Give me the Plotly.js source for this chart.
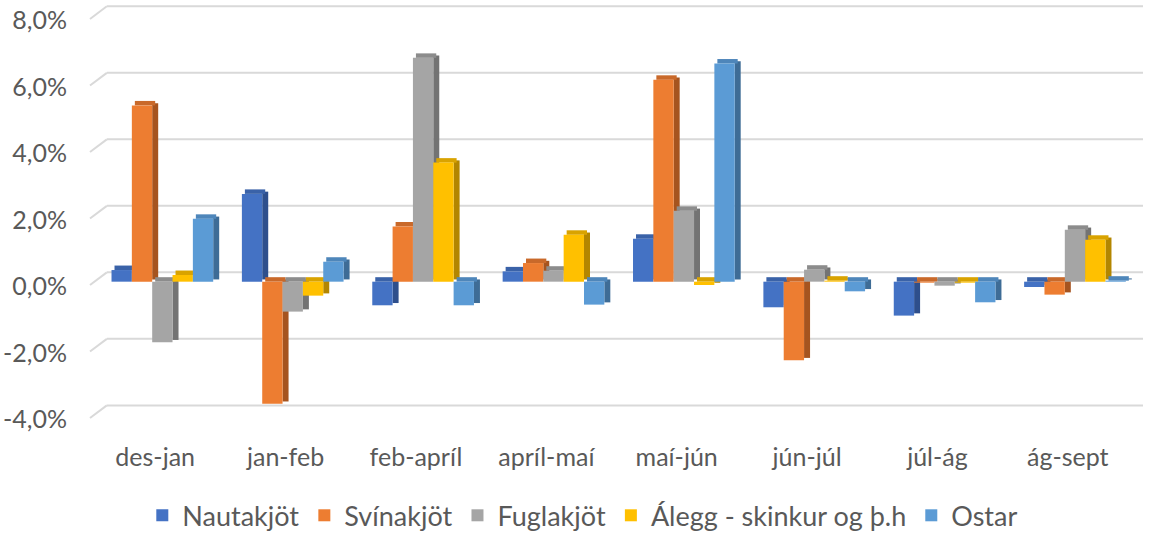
<!DOCTYPE html>
<html>
<head>
<meta charset="utf-8">
<script src="https://cdn.plot.ly/plotly-3.0.1.min.js"></script>
<style>
  html, body { margin: 0; padding: 0; background: #ffffff; }
  #chart { width: 1153px; height: 533px; }
</style>
</head>
<body>
<div id="chart"></div>
<script>
// ---- Data ----
const categories = ['des-jan', 'jan-feb', 'feb-apríl', 'apríl-maí', 'maí-jún', 'jún-júl', 'júl-ág', 'ág-sept'];
const seriesNames = ['Nautakjöt', 'Svínakjöt', 'Fuglakjöt', 'Álegg - skinkur og þ.h', 'Ostar'];
const nautakjot = [0.35, 2.64, -0.71, 0.31, 1.29, -0.77, -1.02, -0.16];
const svinakjot = [5.30, -3.67, 1.66, 0.56, 6.07, -2.36, -0.03, -0.39];
const fuglakjot = [-1.82, -0.90, 6.73, 0.33, 2.13, 0.36, -0.12, 1.56];
const alegg = [0.20, -0.42, 3.58, 1.41, -0.10, 0.03, -0.03, 1.26];
const ostar = [1.89, 0.60, -0.71, -0.69, 6.56, -0.29, -0.62, 0.03];
const yTickVals = [-4, -2, 0, 2, 4, 6, 8];
const yTickText = ['-4,0%', '-2,0%', '0,0%', '2,0%', '4,0%', '6,0%', '8,0%'];

// ---- Styles ----
const seriesValues = [nautakjot, svinakjot, fuglakjot, alegg, ostar];
const frontColors = ['#4472C4', '#ED7D31', '#A5A5A5', '#FFC000', '#5B9BD5'];
const sideColors = ['#2E4F8C', '#A6541F', '#737373', '#B38600', '#3E6C96'];
const topColors = ['#3A62A8', '#C9692A', '#8C8C8C', '#D9A300', '#4E86BA'];
const fontFamily = 'Lato, "Open Sans", sans-serif';
const textColor = '#595959';
const gridColor = '#D9D9D9';

const barW = 0.156;      // front face width (category units)
const sideW = 0.046;     // depth of side face
const startOff = -0.335; // left edge of first bar relative to category center
const depthY = 0.135;    // vertical rise of top face (in % units)
const wallShift = 0.28;  // back wall gridline shift (in % units)
const wallX = 0.016;     // back wall left edge (paper fraction)

const traces = [];
// side + top faces
seriesValues.forEach((vals, i) => {
  traces.push({
    type: 'bar', x: categories, y: vals, base: depthY / 2,
    width: sideW, offset: startOff + (i + 1) * barW,
    marker: { color: sideColors[i], line: { width: 0 } },
    showlegend: false, hoverinfo: 'skip'
  });
  traces.push({
    type: 'bar', x: categories, y: vals.map(() => depthY), base: vals.map(v => Math.max(v, 0)),
    width: barW, offset: startOff + i * barW + sideW / 2,
    marker: { color: topColors[i], line: { width: 0 } },
    showlegend: false, hoverinfo: 'skip'
  });
});
// front faces
seriesValues.forEach((vals, i) => {
  traces.push({
    type: 'bar', x: categories, y: vals, name: seriesNames[i],
    width: barW, offset: startOff + i * barW,
    marker: { color: frontColors[i], line: { width: 0 } }
  });
});

const yFront = [-4.40, 8.47];
const shapes = [];
yTickVals.forEach(v => {
  // back-wall gridline
  shapes.push({
    type: 'line', xref: 'paper', yref: 'y', x0: wallX, x1: 1, y0: v + wallShift, y1: v + wallShift,
    line: { color: gridColor, width: 2 }, layer: 'below'
  });
  // floor/side-wall slant
  shapes.push({
    type: 'line', xref: 'paper', yref: 'y', x0: 0, x1: wallX, y0: v - 0.1, y1: v + wallShift,
    line: { color: gridColor, width: 2 }, layer: 'below'
  });
});

const layout = {
  width: 1153, height: 533,
  margin: { l: 90, r: 10, t: 0, b: 104.5, autoexpand: false },
  paper_bgcolor: '#ffffff', plot_bgcolor: '#ffffff',
  barmode: 'overlay',
  showlegend: true,
  font: { family: fontFamily, color: textColor },
  xaxis: {
    domain: [0, 0.9905], type: 'category', range: [-0.5, 7.5],
    showgrid: false, zeroline: false, showline: false, ticks: '', automargin: false,
    tickfont: { size: 25, color: textColor, family: fontFamily },
    ticklabelstandoff: 12
  },
  yaxis: {
    range: yFront,
    tickvals: yTickVals, ticktext: yTickText, showgrid: false, zeroline: false,
    showline: false, ticks: '', automargin: false,
    tickfont: { size: 25, color: textColor, family: fontFamily },
    ticklabelstandoff: 22, ticklabelshift: 5, ticklabeloverflow: 'allow'
  },
  legend: {
    orientation: 'h', x: 0.468, xanchor: 'center', y: -0.205, yanchor: 'middle',
    font: { size: 27, color: textColor, family: fontFamily },
    itemwidth: 30, traceorder: 'normal'
  },
  shapes: shapes
};

Plotly.newPlot('chart', traces, layout, { displayModeBar: false, staticPlot: true });
</script>
</body>
</html>
